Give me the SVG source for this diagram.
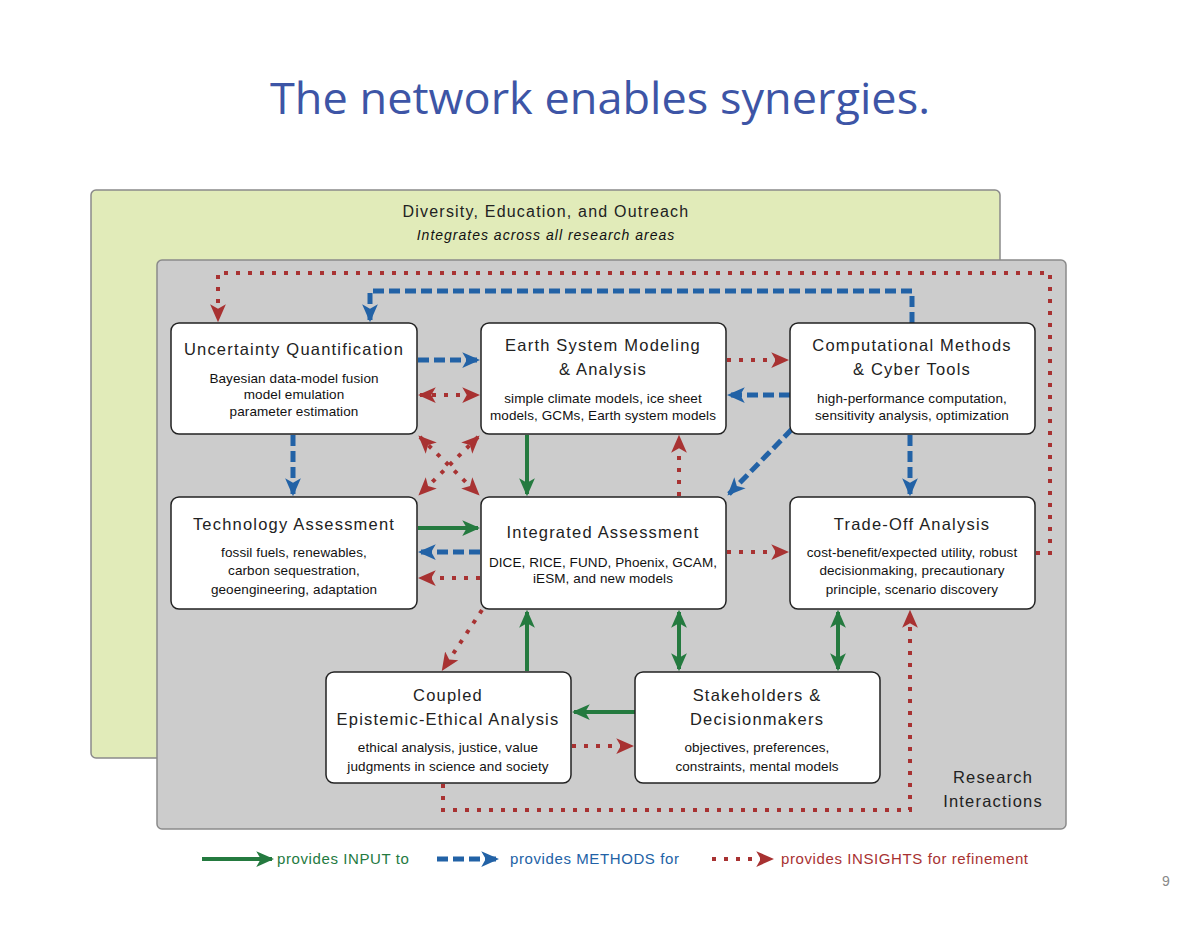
<svg xmlns="http://www.w3.org/2000/svg" width="1200" height="927" viewBox="0 0 1200 927">
<style>
.title{font-family:"Open Sans","Liberation Sans",sans-serif;font-size:44px;fill:#3d55a6;}
.hd{font-family:"Liberation Sans",Arial,sans-serif;font-size:16.5px;fill:#222;letter-spacing:1.2px;text-anchor:middle;}
.sub{font-family:"Liberation Sans",Arial,sans-serif;font-size:13.5px;fill:#111;letter-spacing:0.1px;text-anchor:middle;}
.node{fill:#fff;stroke:#222;stroke-width:1.5;}
.g{stroke:#247a3f;stroke-width:4;fill:none;}
.b{stroke:#2262a6;stroke-width:5;fill:none;stroke-dasharray:11 5;}
.r{stroke:#a83232;stroke-width:4;fill:none;stroke-dasharray:4 8;}
.leg{font-family:"Liberation Sans",Arial,sans-serif;font-size:15px;letter-spacing:0.6px;}
</style>
<defs>
<marker id="ag" markerUnits="userSpaceOnUse" markerWidth="18" markerHeight="18" refX="14" refY="8" orient="auto-start-reverse" viewBox="0 0 16 16"><path d="M0,1 L16,8 L0,15 L4,8 z" fill="#247a3f"/></marker>
<marker id="ab" markerUnits="userSpaceOnUse" markerWidth="18" markerHeight="18" refX="14" refY="8" orient="auto-start-reverse" viewBox="0 0 16 16"><path d="M0,1 L16,8 L0,15 L4,8 z" fill="#2262a6"/></marker>
<marker id="ar" markerUnits="userSpaceOnUse" markerWidth="18" markerHeight="18" refX="14" refY="8" orient="auto-start-reverse" viewBox="0 0 16 16"><path d="M0,1 L16,8 L0,15 L4,8 z" fill="#a83232"/></marker>
</defs>
<rect width="1200" height="927" fill="#fff"/>
<text class="title" x="600" y="114" text-anchor="middle" textLength="660" lengthAdjust="spacingAndGlyphs">The network enables synergies.</text>

<g id="outreach-panel">
<rect x="91" y="190" width="909" height="568" rx="5" fill="#e1ebb9" stroke="#8a8a8a" stroke-width="1.5"/>
<text class="hd" x="546" y="217" style="font-size:16px;letter-spacing:1.2px">Diversity, Education, and Outreach</text>
<text class="sub" x="546" y="240" style="font-style:italic;font-size:14px;letter-spacing:1px">Integrates across all research areas</text>
</g>
<g id="research-panel">
<rect x="157" y="260" width="909" height="569" rx="5" fill="#cccccc" stroke="#8a8a8a" stroke-width="1.5"/>
<text class="hd" x="993" y="783">Research</text>
<text class="hd" x="993" y="807">Interactions</text>
</g>

<g id="connectors">
<path class="r" d="M1036,553 L1050,553 L1050,273 L218,273 L218,320" marker-end="url(#ar)"/>
<path class="b" d="M912,323 L912,291 L370,291 L370,320" marker-end="url(#ab)"/>
<path class="b" d="M418,360 L478,360" marker-end="url(#ab)"/>
<path class="r" d="M420,395 L478,395" marker-start="url(#ar)" marker-end="url(#ar)"/>
<path class="r" d="M727,360 L787,360" marker-end="url(#ar)"/>
<path class="b" d="M790,395 L729,395" marker-end="url(#ab)"/>
<path class="b" d="M293,435 L293,494" marker-end="url(#ab)"/>
<path class="r" d="M420,437 L478,494" marker-start="url(#ar)" marker-end="url(#ar)"/>
<path class="r" d="M478,437 L420,494" marker-start="url(#ar)" marker-end="url(#ar)"/>
<path class="g" d="M527,435 L527,494" marker-end="url(#ag)"/>
<path class="r" d="M679,496 L679,437" marker-end="url(#ar)"/>
<path class="b" d="M792,429 L729,494" marker-end="url(#ab)"/>
<path class="b" d="M910,435 L910,494" marker-end="url(#ab)"/>
<path class="g" d="M418,528 L478,528" marker-end="url(#ag)"/>
<path class="b" d="M480,552 L420,552" marker-end="url(#ab)"/>
<path class="r" d="M480,578 L420,578" marker-end="url(#ar)"/>
<path class="r" d="M727,552 L787,552" marker-end="url(#ar)"/>
<path class="r" d="M482,610 L443,669" marker-end="url(#ar)"/>
<path class="g" d="M527,671 L527,612" marker-end="url(#ag)"/>
<path class="g" d="M679,612 L679,669" marker-start="url(#ag)" marker-end="url(#ag)"/>
<path class="g" d="M838,612 L838,669" marker-start="url(#ag)" marker-end="url(#ag)"/>
<path class="g" d="M635,712 L574,712" marker-end="url(#ag)"/>
<path class="r" d="M572,746 L632,746" marker-end="url(#ar)"/>
<path class="r" d="M443,784 L443,810 L910,810 L910,612" marker-end="url(#ar)"/>
</g>

<g id="uq">
<rect class="node" x="171" y="323" width="246" height="111" rx="8"/>
<text class="hd" x="294" y="355">Uncertainty Quantification</text>
<text class="sub" x="294" y="383">Bayesian data-model fusion</text>
<text class="sub" x="294" y="399">model emulation</text>
<text class="sub" x="294" y="416">parameter estimation</text>
</g>
<g id="esm">
<rect class="node" x="481" y="323" width="245" height="111" rx="8"/>
<text class="hd" x="603" y="351">Earth System Modeling</text>
<text class="hd" x="603" y="375">&amp; Analysis</text>
<text class="sub" x="603" y="403">simple climate models, ice sheet</text>
<text class="sub" x="603" y="420">models, GCMs, Earth system models</text>
</g>
<g id="cmc">
<rect class="node" x="790" y="323" width="245" height="111" rx="8"/>
<text class="hd" x="912" y="351">Computational Methods</text>
<text class="hd" x="912" y="375">&amp; Cyber Tools</text>
<text class="sub" x="912" y="403">high-performance computation,</text>
<text class="sub" x="912" y="420">sensitivity analysis, optimization</text>
</g>
<g id="ta">
<rect class="node" x="171" y="497" width="246" height="112" rx="8"/>
<text class="hd" x="294" y="530">Technology Assessment</text>
<text class="sub" x="294" y="557">fossil fuels, renewables,</text>
<text class="sub" x="294" y="575">carbon sequestration,</text>
<text class="sub" x="294" y="594">geoengineering, adaptation</text>
</g>
<g id="ia">
<rect class="node" x="481" y="497" width="245" height="112" rx="8"/>
<text class="hd" x="603" y="538">Integrated Assessment</text>
<text class="sub" x="603" y="567">DICE, RICE, FUND, Phoenix, GCAM,</text>
<text class="sub" x="603" y="583">iESM, and new models</text>
</g>
<g id="toa">
<rect class="node" x="790" y="497" width="245" height="112" rx="8"/>
<text class="hd" x="912" y="530">Trade-Off Analysis</text>
<text class="sub" x="912" y="557">cost-benefit/expected utility, robust</text>
<text class="sub" x="912" y="575">decisionmaking, precautionary</text>
<text class="sub" x="912" y="594">principle, scenario discovery</text>
</g>
<g id="ceea">
<rect class="node" x="326" y="672" width="245" height="111" rx="8"/>
<text class="hd" x="448" y="701">Coupled</text>
<text class="hd" x="448" y="725">Epistemic-Ethical Analysis</text>
<text class="sub" x="448" y="752">ethical analysis, justice, value</text>
<text class="sub" x="448" y="771">judgments in science and society</text>
</g>
<g id="sd">
<rect class="node" x="635" y="672" width="245" height="111" rx="8"/>
<text class="hd" x="757" y="701">Stakeholders &amp;</text>
<text class="hd" x="757" y="725">Decisionmakers</text>
<text class="sub" x="757" y="752">objectives, preferences,</text>
<text class="sub" x="757" y="771">constraints, mental models</text>
</g>

<g id="legend">
<path class="g" d="M202,859 L272,859" marker-end="url(#ag)"/>
<text class="leg" x="277" y="864" fill="#247a3f">provides INPUT to</text>
<path class="b" d="M437,859 L497,859" marker-end="url(#ab)"/>
<text class="leg" x="510" y="864" fill="#2262a6">provides METHODS for</text>
<path class="r" d="M712,859 L772,859" marker-end="url(#ar)"/>
<text class="leg" x="781" y="864" fill="#a83232">provides INSIGHTS for refinement</text>
</g>
<text x="1166" y="886" font-family="Liberation Sans, Arial, sans-serif" font-size="14" fill="#888" text-anchor="middle">9</text>
</svg>
